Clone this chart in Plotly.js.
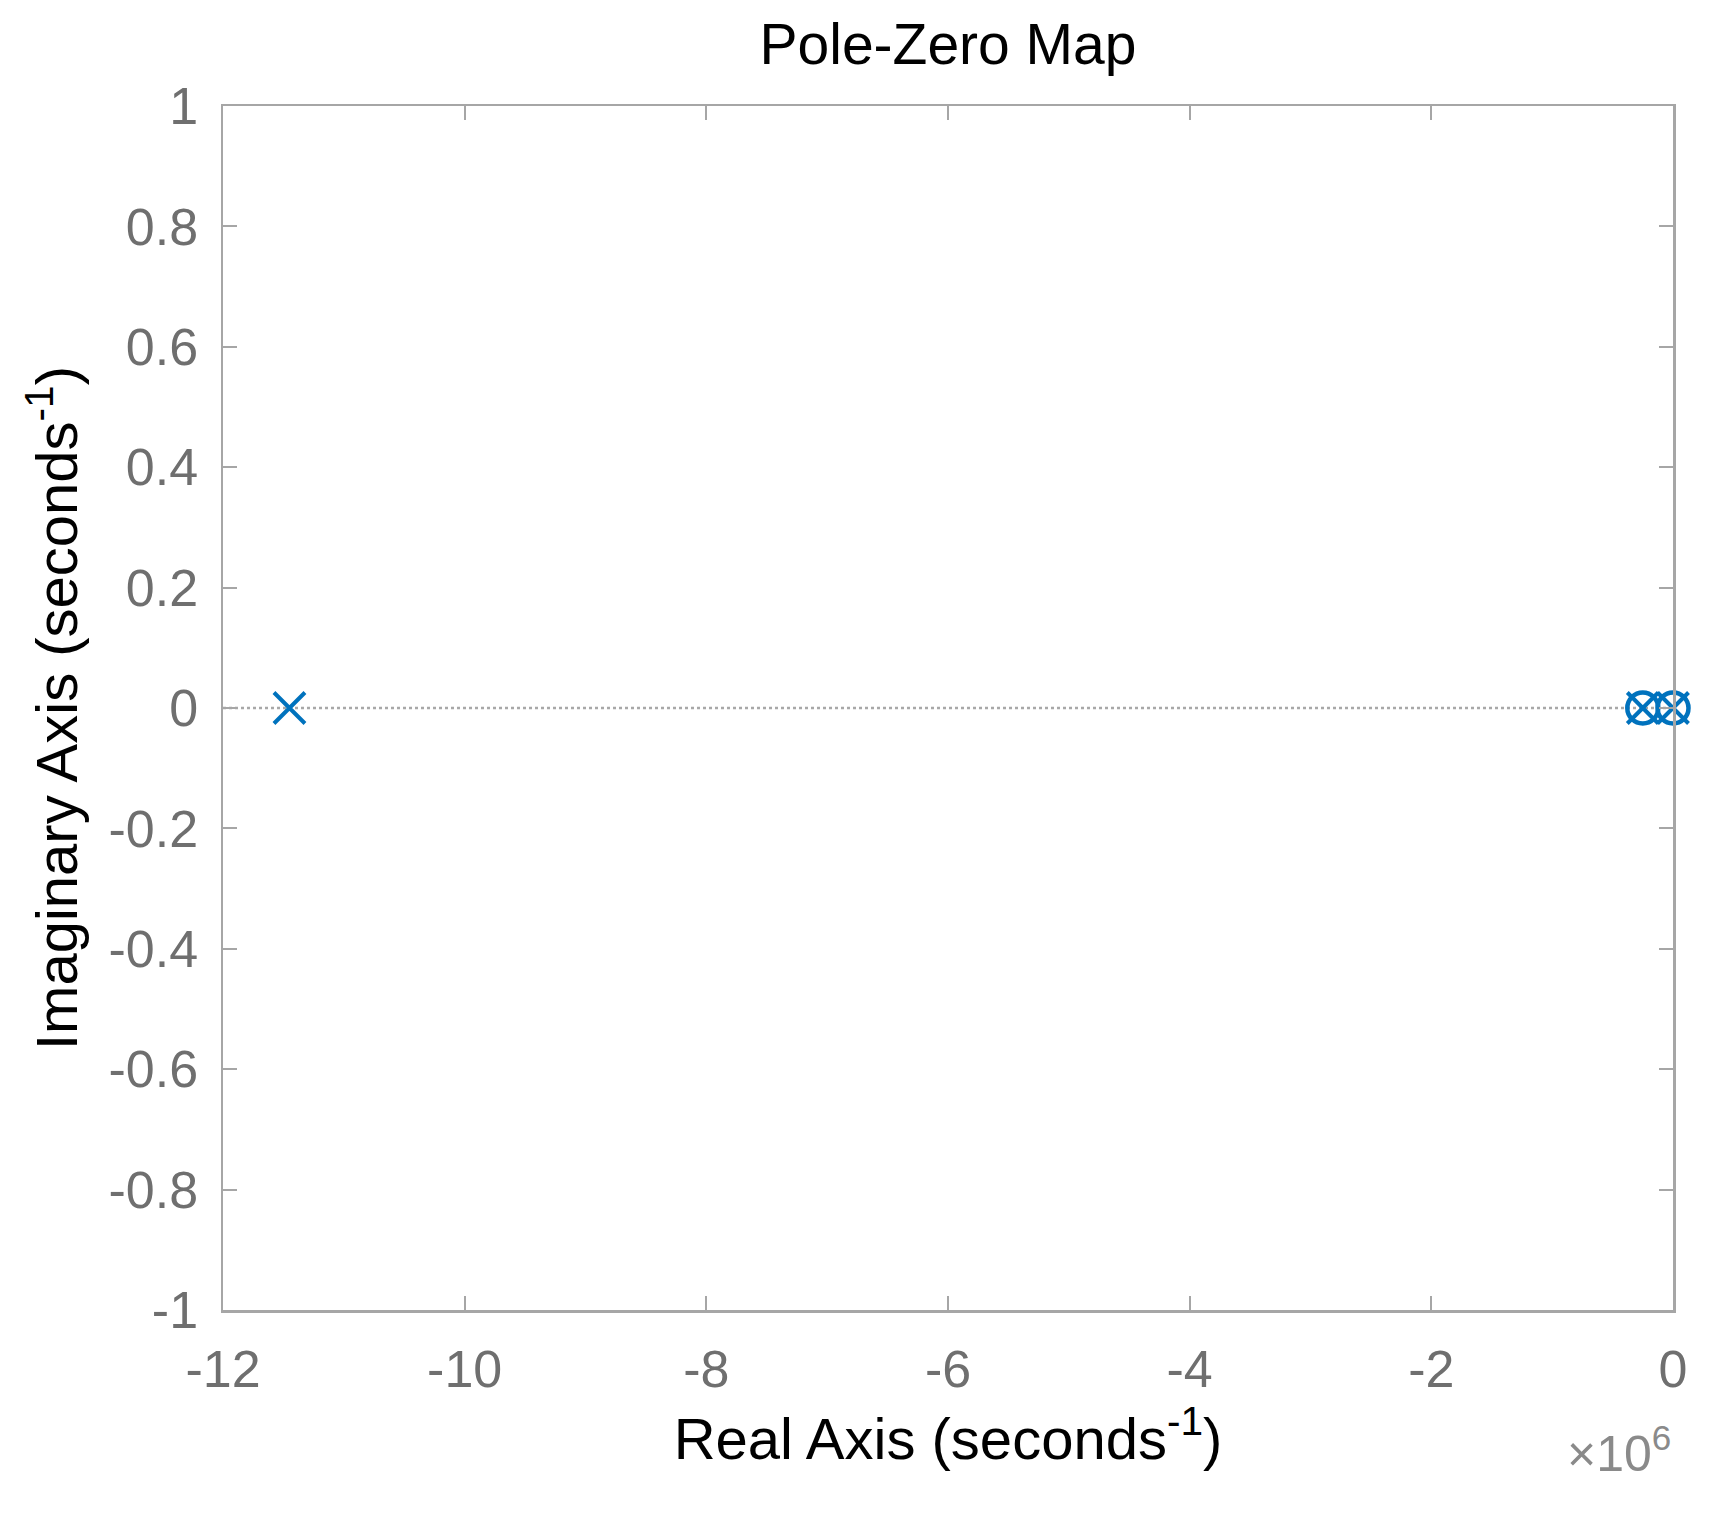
<!DOCTYPE html>
<html>
<head>
<meta charset="utf-8">
<script src="https://cdn.plot.ly/plotly-3.0.1.min.js"></script>
<style>html,body{margin:0;padding:0;background:#fff;}#plot{width:1734px;height:1516px;}</style>
</head>
<body>
<div id="plot"></div>
<script>
// Pole and zero locations (real part in seconds^-1, imaginary part)
const poleReal = [-11.45e6, -0.25e6, 0];
const poleImag = [0, 0, 0];
const zeroReal = [-0.25e6, 0];
const zeroImag = [0, 0];

// Axis ticks
const xTickVals = [-12e6, -10e6, -8e6, -6e6, -4e6, -2e6, 0];
const xTickText = ["-12", "-10", "-8", "-6", "-4", "-2", "0"];
const yTickVals = [-1, -0.8, -0.6, -0.4, -0.2, 0, 0.2, 0.4, 0.6, 0.8, 1];
const yTickText = ["-1", "-0.8", "-0.6", "-0.4", "-0.2", "0", "0.2", "0.4", "0.6", "0.8", "1"];

const blue = "#0072BD";
const tickGray = "#6f6f6f";
const lineGray = "#a6a6a6";
const font = "Liberation Sans, Arial, sans-serif";

const traces = [
  {
    x: zeroReal, y: zeroImag, type: "scatter", mode: "markers", cliponaxis: false,
    marker: {symbol: "circle-open", size: 31, color: blue, line: {width: 4.5, color: blue}},
    hoverinfo: "x+y", name: "Zeros"
  },
  {
    x: poleReal, y: poleImag, type: "scatter", mode: "markers", cliponaxis: false,
    marker: {symbol: "x-thin-open", size: 31, color: blue, line: {width: 4, color: blue}},
    hoverinfo: "x+y", name: "Poles"
  }
];

const axisCommon = {
  showgrid: false, zeroline: false, showline: true, linecolor: lineGray, linewidth: 2.5,
  mirror: "ticks", ticks: "inside", ticklen: 14, tickwidth: 2, tickcolor: lineGray,
  tickfont: {family: font, size: 52, color: tickGray}
};

const layout = {
  width: 1734, height: 1516,
  paper_bgcolor: "#ffffff", plot_bgcolor: "#ffffff",
  margin: {l: 223, r: 61, t: 106, b: 206},
  showlegend: false,
  title: {text: "Pole-Zero Map", font: {family: font, size: 57, color: "#000000"},
          xref: "paper", x: 0.5, xanchor: "center", yref: "container", y: 1 - 44/1516, yanchor: "middle"},
  xaxis: Object.assign({}, axisCommon, {
    range: [-12e6, 0], tickmode: "array", tickvals: xTickVals, ticktext: xTickText,
    ticklabelstandoff: 12,
    title: {text: "Real Axis (seconds<sup>-1</sup>)", font: {family: font, size: 58, color: "#000000"}, standoff: 19}
  }),
  yaxis: Object.assign({}, axisCommon, {
    range: [-1, 1], tickmode: "array", tickvals: yTickVals, ticktext: yTickText,
    ticklabelstandoff: 12,
    title: {text: "Imaginary Axis (seconds<sup>-1</sup>)", font: {family: font, size: 58, color: "#000000"}, standoff: 12}
  }),
  shapes: [
    {type: "line", xref: "paper", yref: "y", x0: 0, x1: 1, y0: 0, y1: 0,
     line: {color: "#a8a8a8", width: 2.5, dash: "dot"}, layer: "below"}
  ],
  annotations: [
    {text: "\u00d710<sup>6</sup>", xref: "paper", yref: "paper", x: 1, y: -140 / 1204,
     xanchor: "right", yanchor: "middle", showarrow: false,
     font: {family: font, size: 50, color: "#8a8a8a"}}
  ]
};

Plotly.newPlot("plot", traces, layout, {displayModeBar: false, staticPlot: true});
</script>
</body>
</html>
